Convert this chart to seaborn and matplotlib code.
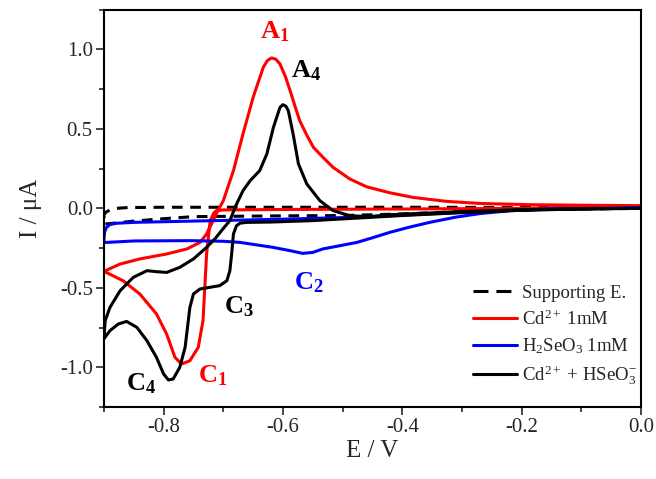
import numpy as np
import pandas as pd
import matplotlib
matplotlib.use("Agg")
import matplotlib.pyplot as plt
import seaborn as sns
from matplotlib.ticker import MultipleLocator

sns.set_style("ticks")
plt.rcParams['font.family'] = ['Liberation Serif', 'DejaVu Serif']
plt.rcParams['mathtext.fontset'] = 'custom'
plt.rcParams['mathtext.rm'] = 'Liberation Serif'
plt.rcParams['mathtext.it'] = 'Liberation Serif:italic'
plt.rcParams['mathtext.bf'] = 'Liberation Serif:bold'

# supporting electrolyte (dashed)
supp_E = [0.0, -0.2, -0.4, -0.6, -0.8, -0.86, -0.88, -0.89, -0.897, -0.9,
          -0.9, -0.895, -0.88, -0.85, -0.8, -0.75, -0.6, -0.5, -0.4, -0.3, -0.2, -0.1, 0.0]
supp_I = [0.004, 0.006, 0.007, 0.007, 0.007, 0.005, 0.0, -0.01, -0.025, -0.04,
          -0.1, -0.097, -0.092, -0.08, -0.065, -0.052, -0.047, -0.045, -0.035, -0.02, -0.01, -0.004, 0.0]

# Cd2+ 1mM (red)
red_E = [0.0, -0.1, -0.2, -0.4, -0.6, -0.7, -0.712, -0.716, -0.722, -0.728, -0.731, -0.734,
         -0.742, -0.756, -0.77, -0.781, -0.795, -0.812, -0.84, -0.868, -0.9,
         -0.873, -0.84, -0.795, -0.761, -0.739, -0.728, -0.717, -0.709, -0.70, -0.683, -0.667,
         -0.65, -0.633, -0.626, -0.619, -0.612, -0.605, -0.596, -0.588, -0.58, -0.572, -0.56,
         -0.549, -0.53, -0.516, -0.488, -0.46, -0.421, -0.382, -0.326, -0.27, -0.186, -0.074, 0.0]
red_I = [0.01, 0.004, 0.0, -0.004, -0.007, -0.01, -0.015, -0.03, -0.077, -0.287, -0.497, -0.706,
         -0.874, -0.958, -0.979, -0.937, -0.79, -0.664, -0.538, -0.455, -0.396,
         -0.35, -0.318, -0.287, -0.255, -0.214, -0.161, -0.077, -0.014, 0.048, 0.237, 0.468,
         0.698, 0.887, 0.93, 0.946, 0.938, 0.908, 0.83, 0.74, 0.645, 0.552, 0.46,
         0.384, 0.31, 0.258, 0.185, 0.136, 0.098, 0.069, 0.044, 0.031, 0.023, 0.019, 0.017]

# H2SeO3 1mM (blue)
blue_E = [0.0, -0.074, -0.158, -0.22, -0.27, -0.31, -0.354, -0.39, -0.421, -0.45, -0.476,
          -0.505, -0.533, -0.55, -0.567, -0.588, -0.617, -0.672, -0.70, -0.756, -0.85, -0.9,
          -0.9, -0.899, -0.896, -0.89, -0.88, -0.85, -0.75, -0.6, -0.5, -0.42, -0.3, -0.2, -0.1, 0.0]
blue_I = [0.002, 0.0, -0.004, -0.015, -0.033, -0.055, -0.088, -0.12, -0.151, -0.185, -0.214,
          -0.235, -0.255, -0.277, -0.283, -0.266, -0.245, -0.214, -0.207, -0.203, -0.205, -0.215,
          -0.19, -0.15, -0.12, -0.102, -0.094, -0.088, -0.08, -0.068, -0.058, -0.046, -0.025,
          -0.01, -0.003, 0.002]

# Cd2+ + HSeO3- (black)
black_E = [0.0, -0.1, -0.2, -0.3, -0.4, -0.47, -0.55, -0.62, -0.66, -0.672, -0.678, -0.683,
           -0.686, -0.689, -0.694, -0.706, -0.739, -0.75, -0.756, -0.76, -0.764, -0.773, -0.784,
           -0.792, -0.80, -0.812, -0.828, -0.845, -0.862, -0.876, -0.89, -0.9,
           -0.898, -0.89, -0.873, -0.851, -0.828, -0.812, -0.795, -0.773, -0.75, -0.728, -0.714,
           -0.703, -0.689, -0.679, -0.667, -0.655, -0.639, -0.627, -0.616, -0.605, -0.6, -0.595,
           -0.591, -0.583, -0.574, -0.56, -0.538, -0.516, -0.488, -0.454, -0.42, -0.3, -0.2, -0.1, 0.0]
black_I = [0.0, -0.004, -0.012, -0.027, -0.045, -0.06, -0.077, -0.086, -0.088, -0.093, -0.11,
           -0.161, -0.287, -0.392, -0.455, -0.486, -0.507, -0.538, -0.623, -0.748, -0.874, -1.0,
           -1.073, -1.079, -1.042, -0.937, -0.832, -0.748, -0.711, -0.727, -0.769, -0.82,
           -0.706, -0.623, -0.518, -0.434, -0.392, -0.398, -0.403, -0.371, -0.318, -0.245, -0.192,
           -0.14, -0.077, 0.017, 0.111, 0.174, 0.237, 0.342, 0.509, 0.635, 0.652, 0.642,
           0.614, 0.468, 0.279, 0.153, 0.048, -0.014, -0.046, -0.052, -0.04, -0.02, -0.008, -0.002, 0.0]

labels = ['Supporting E.', r'Cd$^{2+}$ 1mM', r'H$_2$SeO$_3$ 1mM', r'Cd$^{2+}$ + HSeO$_3^{-}$']

fig = plt.figure(figsize=(6.56, 4.79), dpi=100)
ax = fig.add_axes([0.1585, 0.150, 0.8185, 0.830])

lw = 2.2
sns.lineplot(x=supp_E, y=supp_I, sort=False, estimator=None, color='black', lw=lw,
             ax=ax, label=labels[0]).lines[-1].set_dashes((3.5, 2.5))
sns.lineplot(x=red_E, y=red_I, sort=False, estimator=None, color='#ff0000', lw=lw, ax=ax, label=labels[1])
sns.lineplot(x=blue_E, y=blue_I, sort=False, estimator=None, color='#0000ff', lw=lw, ax=ax, label=labels[2])
sns.lineplot(x=black_E, y=black_I, sort=False, estimator=None, color='black', lw=lw, ax=ax, label=labels[3])

ax.set_xlim(-0.9, 0.0)
ax.set_ylim(-1.25, 1.25)
ax.xaxis.set_minor_locator(MultipleLocator(0.1))
ax.yaxis.set_minor_locator(MultipleLocator(0.25))
ax.set_xticks([-0.8, -0.6, -0.4, -0.2, 0.0])
ax.set_xticklabels(['-0.8', '-0.6', '-0.4', '-0.2', '0.0'])
ax.set_yticks([-1.0, -0.5, 0.0, 0.5, 1.0])
ax.set_yticklabels(['-1.0', '-0.5', '0.0', '0.5', '1.0'])
ax.tick_params(which='major', length=6, width=1.2, labelsize=15, direction='out', pad=2)
ax.tick_params(which='minor', length=3.5, width=1.2, direction='out')
for s in ax.spines.values():
    s.set_linewidth(1.5)
    s.set_color('black')

ax.set_xlabel('E / V', fontsize=18, labelpad=2)
ax.set_ylabel('I / μA', fontsize=18, labelpad=13)

lab = dict(fontsize=19, ha='center', va='center')
ax.text(-0.613, 1.11, r'$\mathbf{A_1}$', color='#ff0000', **lab)
ax.text(-0.561, 0.866, r'$\mathbf{A_4}$', color='black', **lab)
ax.text(-0.717, -1.05, r'$\mathbf{C_1}$', color='#ff0000', **lab)
ax.text(-0.556, -0.467, r'$\mathbf{C_2}$', color='#0000ff', **lab)
ax.text(-0.674, -0.618, r'$\mathbf{C_3}$', color='black', **lab)
ax.text(-0.838, -1.10, r'$\mathbf{C_4}$', color='black', **lab)

leg = ax.legend(loc='lower left', bbox_to_anchor=(0.687, 0.05), frameon=False, fontsize=13.5,
                handlelength=2.35, handletextpad=0.25, labelspacing=0.4,
                borderaxespad=0.0, borderpad=0.0)
leg.get_lines()[0].set_dashes((4.9, 2.6))

fig.savefig('out.png', dpi=100, facecolor='white')
